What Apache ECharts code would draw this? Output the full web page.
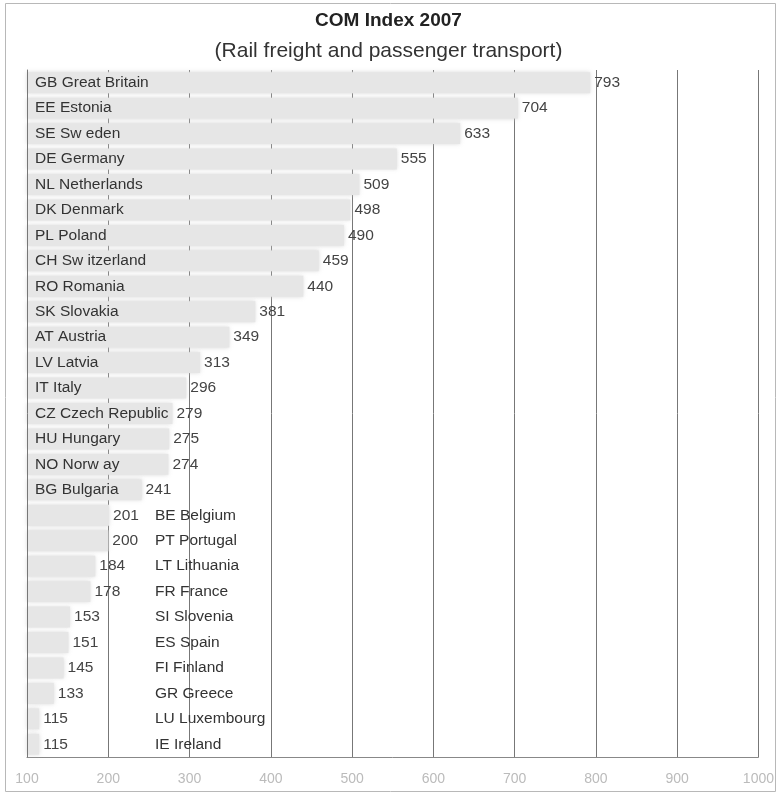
<!DOCTYPE html>
<html>
<head>
<meta charset="utf-8">
<script src="https://cdn.jsdelivr.net/npm/echarts@6/dist/echarts.min.js"></script>
<style>
  html, body { margin: 0; padding: 0; background: #fff; }
  #chart { width: 777px; height: 793px; }
</style>
</head>
<body>
<div id="chart"></div>
<script>
// 国家 (自上而下)
const countries = [
  'GB Great Britain', 'EE Estonia', 'SE Sw eden', 'DE Germany', 'NL Netherlands',
  'DK Denmark', 'PL Poland', 'CH Sw itzerland', 'RO Romania', 'SK Slovakia',
  'AT Austria', 'LV Latvia', 'IT Italy', 'CZ Czech Republic', 'HU Hungary',
  'NO Norw ay', 'BG Bulgaria', 'BE Belgium', 'PT Portugal', 'LT Lithuania',
  'FR France', 'SI Slovenia', 'ES Spain', 'FI Finland', 'GR Greece',
  'LU Luxembourg', 'IE Ireland'
]
const comIndex = [
  793, 704, 633, 555, 509, 498, 490, 459, 440, 381,
  349, 313, 296, 279, 275, 274, 241, 201, 200, 184,
  178, 153, 151, 145, 133, 115, 115
]
const xTicks = [100, 200, 300, 400, 500, 600, 700, 800, 900, 1000]

// 名称在条外的国家 (值较小)
const outsideFrom = 17

let chart = echarts.init(document.getElementById('chart'))

let option = {
  backgroundColor: '#fff',
  animation: false,
  title: {
    text: 'COM Index 2007',
    subtext: '(Rail freight and passenger transport)',
    left: 'center',
    top: 6,
    itemGap: 11,
    textStyle: {
      fontFamily: 'Liberation Sans',
      fontSize: 19,
      fontWeight: 'bold',
      color: '#222'
    },
    subtextStyle: {
      fontFamily: 'Liberation Sans',
      fontSize: 21,
      color: '#333'
    }
  },
  graphic: [{
    type: 'rect',
    shape: { x: 5.5, y: 3.5, width: 770, height: 788 },
    style: { fill: 'none', stroke: '#b8b8b8', lineWidth: 1 },
    z: -1
  }],
  grid: {
    left: 27,
    right: 13,
    top: 70,
    bottom: 36
  },
  xAxis: {
    type: 'value',
    min: xTicks[0],
    max: xTicks[xTicks.length - 1],
    interval: 100,
    axisLine: { show: true, lineStyle: { color: '#888' } },
    axisTick: { show: false },
    axisLabel: {
      margin: 15,
      fontFamily: 'Liberation Sans',
      fontSize: 14,
      color: '#bbb',
      formatter: v => String(v)
    },
    splitLine: {
      show: true,
      lineStyle: { color: '#777', width: 1 }
    }
  },
  yAxis: {
    type: 'category',
    inverse: true,
    data: countries,
    zlevel: 1,
    z: 10,
    axisLine: { show: true, lineStyle: { color: '#777' } },
    axisTick: { show: false },
    axisLabel: {
      inside: true,
      margin: 8,
      formatter: (name, idx) => idx >= outsideFrom ? '{o|' + name + '}' : '{i|' + name + '}',
      rich: {
        i: { fontFamily: 'Liberation Sans', fontSize: 15.5, color: '#333' },
        o: { fontFamily: 'Liberation Sans', fontSize: 15.5, color: '#333', padding: [0, 0, 0, 120] }
      }
    }
  },
  series: [{
    type: 'bar',
    zlevel: 1,
    z: 2,
    data: comIndex,
    barCategoryGap: '18%',
    itemStyle: {
      color: '#e6e6e6',
      shadowBlur: 4,
      shadowColor: 'rgba(210,210,210,0.8)'
    },
    label: {
      show: true,
      position: 'right',
      distance: 4,
      fontFamily: 'Liberation Sans',
      fontSize: 15.5,
      color: '#444'
    }
  }]
}

chart.setOption(option)
</script>
</body>
</html>
